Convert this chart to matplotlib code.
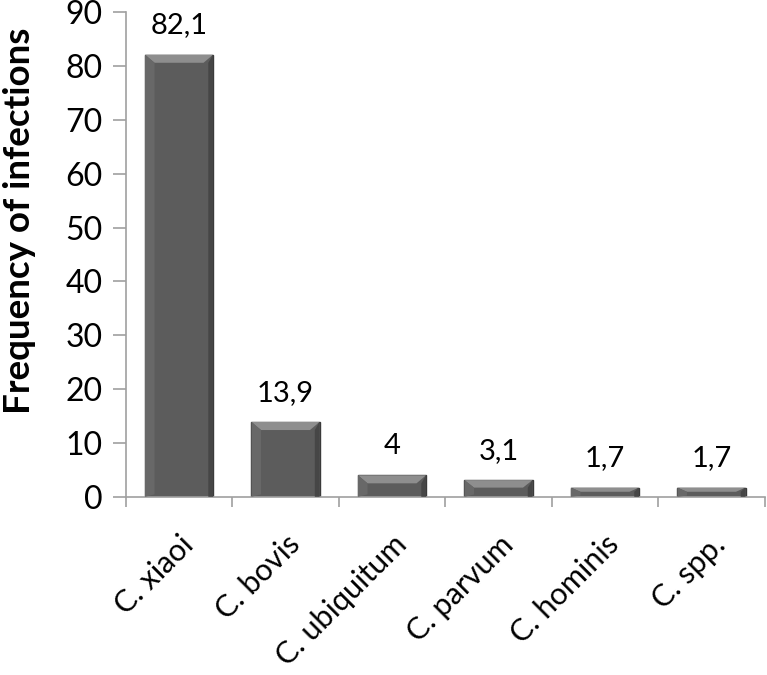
import matplotlib.pyplot as plt
from matplotlib.patches import Polygon

species = ["C. xiaoi", "C. bovis", "C. ubiquitum", "C. parvum", "C. hominis", "C. spp."]
freq = [82.1, 13.9, 4, 3.1, 1.7, 1.7]
value_labels = ["82,1", "13,9", "4", "3,1", "1,7", "1,7"]

plt.rcParams['font.family'] = ['Lato', 'DejaVu Sans']

fig = plt.figure(figsize=(7.67, 6.75), dpi=100)
ax = fig.add_axes([0.164, 0.264, 0.833, 0.718])

x = list(range(len(species)))
width = 0.64
bars = ax.bar(x, freq, width=width, color='#5c5c5c', edgecolor='#3a3a3a', linewidth=1.0, zorder=2)

# bevel: light top band, slightly lighter left edge, dark right edge
bev_h = 1.5
bev_w = 0.09
for xi, v in zip(x, freq):
    h = min(bev_h, v * 0.45)
    l, r = xi - width / 2, xi + width / 2
    ax.add_patch(Polygon([(l, v), (r, v), (r - bev_w, v - h), (l + bev_w, v - h)],
                         closed=True, facecolor='#8e8e8e', edgecolor='none', zorder=3))
    ax.add_patch(Polygon([(l, v), (l + bev_w, v - h), (l + bev_w, h * 0.3), (l, 0)],
                         closed=True, facecolor='#686868', edgecolor='none', zorder=3))
    ax.add_patch(Polygon([(r, v), (r - bev_w * 0.5, v - h), (r - bev_w * 0.5, 0), (r, 0)],
                         closed=True, facecolor='#464646', edgecolor='none', zorder=3))

for xi, v, lab in zip(x, freq, value_labels):
    ax.text(xi, v + 3.0, lab, ha='center', va='bottom', fontsize=21)

ax.set_xlim(-0.5, len(species) - 0.5)
ax.set_ylim(0, 90)
ax.set_yticks(range(0, 91, 10))
ax.set_xticks([i - 0.5 for i in range(len(species) + 1)])
ax.set_xticklabels([])
ax.set_xticks(x, minor=True)
ax.set_xticklabels(species, minor=True, rotation=45, ha='right', rotation_mode='anchor', fontsize=22)
ax.tick_params(axis='x', which='minor', length=0, pad=24)
ax.tick_params(axis='x', which='major', length=7, color='#a0a0a0', width=1.2)
ax.tick_params(axis='y', length=9.5, color='#a0a0a0', width=1.2, labelsize=23, pad=7)

for s in ['top', 'right']:
    ax.spines[s].set_visible(False)
for s in ['left', 'bottom']:
    ax.spines[s].set_color('#a0a0a0')
    ax.spines[s].set_linewidth(1.2)

ax.set_ylabel("Frequency of infections", fontsize=26.5, fontweight='bold')
ax.yaxis.set_label_coords(-0.14, 0.57)

fig.savefig("out.png", dpi=100)
